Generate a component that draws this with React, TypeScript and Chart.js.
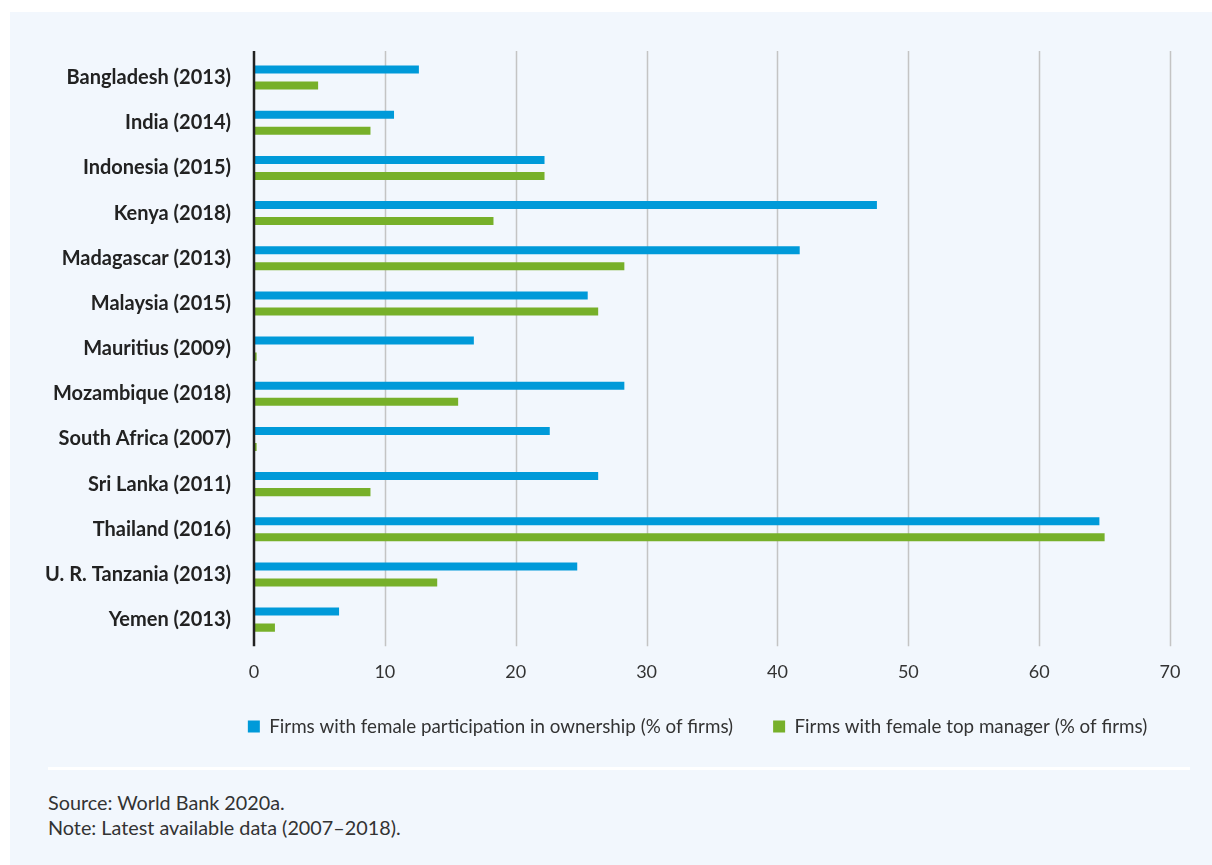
import React, { useEffect, useRef } from "react";
import { Chart, registerables } from "chart.js";

Chart.register(...registerables);

const categories = [
  "Bangladesh (2013)",
  "India (2014)",
  "Indonesia (2015)",
  "Kenya (2018)",
  "Madagascar (2013)",
  "Malaysia (2015)",
  "Mauritius (2009)",
  "Mozambique (2018)",
  "South Africa (2007)",
  "Sri Lanka (2011)",
  "Thailand (2016)",
  "U. R. Tanzania (2013)",
  "Yemen (2013)",
];

const ownershipValues = [12.6, 10.7, 22.2, 47.6, 41.7, 25.5, 16.8, 28.3, 22.6, 26.3, 64.6, 24.7, 6.5];
const managerValues = [4.9, 8.9, 22.2, 18.3, 28.3, 26.3, 0.2, 15.6, 0.2, 8.9, 65.0, 14.0, 1.6];

const seriesLabels = [
  "Firms with female participation in ownership (% of firms)",
  "Firms with female top manager (% of firms)",
];

const xTicks = [0, 10, 20, 30, 40, 50, 60, 70];

const sourceText = "Source: World Bank 2020a.";
const noteText = "Note: Latest available data (2007–2018).";

const FONT = "Lato, 'Open Sans', sans-serif";
const BLUE = "#009ad9";
const GREEN = "#77b02a";

const gridPlugin = {
  id: "customGrid",
  afterLayout(chart: any) {
    const lg = chart.legend;
    if (lg) {
      lg.left = 87.5;
      lg.right = 1287.5;
      lg.width = 1200;
      lg.top -= 12;
      lg.bottom -= 12;
    }
  },
  beforeDatasetsDraw(chart: any) {
    const { ctx, chartArea, scales } = chart;
    const x = scales.x;
    ctx.save();
    ctx.strokeStyle = "#c4c4c4";
    ctx.lineWidth = 1.5;
    for (const t of xTicks) {
      if (t === 0) continue;
      const px = Math.round(x.getPixelForValue(t)) + 0.5;
      ctx.beginPath();
      ctx.moveTo(px, chartArea.top - 4);
      ctx.lineTo(px, chartArea.bottom + 4);
      ctx.stroke();
    }
    ctx.restore();
  },
  afterDatasetsDraw(chart: any) {
    const { ctx, chartArea, scales } = chart;
    const px = scales.x.getPixelForValue(0);
    ctx.save();
    ctx.strokeStyle = "#222222";
    ctx.lineWidth = 2.5;
    ctx.beginPath();
    ctx.moveTo(px, chartArea.top - 4);
    ctx.lineTo(px, chartArea.bottom + 4);
    ctx.stroke();
    ctx.restore();
  },
};

export default function App() {
  const canvasRef = useRef<HTMLCanvasElement>(null);

  useEffect(() => {
    if (!canvasRef.current) return;
    const chart = new Chart(canvasRef.current, {
      type: "bar",
      data: {
        labels: categories,
        datasets: [
          {
            label: seriesLabels[0],
            data: ownershipValues,
            backgroundColor: BLUE,
            borderWidth: 0,
            barPercentage: 0.5,
            categoryPercentage: 0.71,
          },
          {
            label: seriesLabels[1],
            data: managerValues,
            backgroundColor: GREEN,
            borderWidth: 0,
            barPercentage: 0.5,
            categoryPercentage: 0.71,
          },
        ],
      },
      options: {
        indexAxis: "y",
        animation: false,
        responsive: false,
        maintainAspectRatio: false,
        layout: { padding: { left: 0, right: 26, top: 43, bottom: 18 } },
        plugins: {
          tooltip: { enabled: false },
          legend: {
            position: "bottom",
            labels: {
              boxWidth: 12,
              boxHeight: 12,
              padding: 40,
              color: "#333333",
              font: { family: FONT, size: 18.8 },
            },
          },
        },
        scales: {
          x: {
            min: 0,
            max: 70,
            afterBuildTicks: (axis: any) => {
              axis.ticks = xTicks.map((v) => ({ value: v }));
            },
            grid: { display: false, drawTicks: false },
            border: { display: false },
            ticks: {
              padding: 19.5,
              color: "#333333",
              font: { family: FONT, size: 18 },
            },
            afterFit: (axis: any) => {
              axis.height = 47;
            },
          },
          y: {
            grid: { display: false, drawTicks: false },
            border: { display: false },
            ticks: {
              padding: 23,
              color: "#222222",
              font: { family: FONT, size: 20, weight: "bold" },
            },
            afterFit: (axis: any) => {
              axis.width = 244;
            },
          },
        },
      },
      plugins: [gridPlugin],
    });
    return () => chart.destroy();
  }, []);

  return (
    <div style={{ position: "absolute", left: 0, top: 0, width: 1212, height: 865, background: "#ffffff", overflow: "hidden" }}>
      <div style={{ position: "absolute", left: 10, top: 12, width: 1202, height: 853, background: "#f2f7fd" }}>
        <canvas ref={canvasRef} width={1190} height={764} style={{ position: "absolute", left: 0, top: 0, width: 1190, height: 764 }} />
        <div style={{ position: "absolute", left: 38, top: 755, width: 1142, height: 3, background: "#ffffff" }} />
        <div style={{ position: "absolute", left: 38, top: 778, fontFamily: FONT, fontSize: 19.8, lineHeight: "25px", color: "#333333", whiteSpace: "nowrap" }}>
          <div>{sourceText}</div>
          <div>{noteText}</div>
        </div>
      </div>
    </div>
  );
}
